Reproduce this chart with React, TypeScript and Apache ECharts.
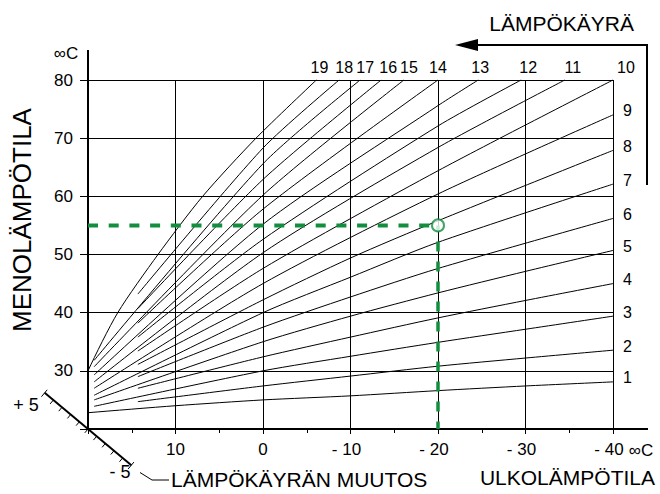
import React, { useEffect, useRef } from 'react';
import * as echarts from 'echarts';

const FONT = '"Liberation Sans", Arial, Helvetica, sans-serif';
const GREEN = '#128f3e';

// Heating curves: [outdoor temperature °C, flow temperature °C]
const curve1 = [[22, 22.5], [20, 22.8], [10, 24.0], [0, 25.0], [-10, 25.7], [-20, 26.6], [-30, 27.4], [-40, 28.1]];
const curve2 = [[14.3, 24.7], [0, 27.4], [-10, 29.1], [-20, 30.8], [-30, 32.2], [-40, 33.55]];
const curve3 = [[19.3, 23.9], [0, 30.0], [-10, 32.5], [-20, 34.9], [-30, 37.15], [-40, 39.4]];
const curve4 = [[14.3, 27.0], [0, 32.4], [-10, 35.8], [-20, 39.1], [-30, 42.1], [-40, 45.0]];
const curve5 = [[19.3, 25.0], [0, 35.0], [-10, 39.4], [-20, 43.4], [-30, 47.1], [-40, 50.7]];
const curve6 = [[14.3, 29.0], [0, 37.5], [-10, 42.7], [-20, 47.6], [-40, 56.2]];
const curve7 = [[19.3, 25.8], [0, 40.0], [-10, 46.1], [-20, 52.1], [-40, 62.1]];
const curve8 = [[14.3, 31.1], [0, 42.2], [-10, 49.4], [-20, 55.8], [-40, 67.9]];
const curve9 = [[19.3, 27.0], [0, 45.0], [-20, 60.4], [-40, 74.0]];
const curve10 = [[14.3, 33.4], [0, 47.6], [-20, 64.4], [-40, 80]];
const curve11 = [[19.3, 28.1], [0, 50.3], [-20, 68.4], [-34.5, 80]];
const curve12 = [[14.3, 35.8], [0, 52.6], [-20, 72.1], [-29.5, 80]];
const curve13 = [[19.3, 29.3], [0, 55.2], [-20, 75.6], [-24.6, 80]];
const curve14 = [[14.3, 38.2], [0, 57.8], [-20, 80]];
const curve15 = [[19.3, 30.7], [0, 60.2], [-16.1, 80]];
const curve16 = [[14.3, 40.7], [0, 62.9], [-13.5, 80]];
const curve17 = [[19.3, 31.8], [0, 65.6], [-11.1, 80]];
const curve18 = [[14.3, 43.2], [0, 68.3], [-8.7, 80]];
const curve19 = [[22, 22.5], [20, 30], [16.6, 40], [12.0, 50], [6.9, 60], [0.8, 70], [-6.1, 80]];

const curves = [curve1, curve2, curve3, curve4, curve5, curve6, curve7, curve8, curve9, curve10,
  curve11, curve12, curve13, curve14, curve15, curve16, curve17, curve18, curve19];
const curveNames = ['1', '2', '3', '4', '5', '6', '7', '8', '9', '10',
  '11', '12', '13', '14', '15', '16', '17', '18', '19'];

// Example reading: outdoor -20 °C -> flow 55 °C
const exampleOutdoor = -20;
const exampleFlow = 55;

const xMin = -40;
const xMax = 20;
const yMin = 20;
const yMax = 80;

const title = 'LÄMPÖKÄYRÄ';
const yTitle = 'MENOLÄMPÖTILA';
const xTitle = 'ULKOLÄMPÖTILA';
const shiftTitle = 'LÄMPÖKÄYRÄN MUUTOS';
const unit = '∞C';

// label offsets (style only)
const topLabelDx: Record<string, number> = { '10': 13, '11': 8, '12': 7, '13': 2, '14': 0, '15': 5, '16': 7, '17': 5, '18': 5, '19': 3 };

export default function App() {
  const ref = useRef<HTMLDivElement>(null);
  useEffect(() => {
    if (!ref.current) return;
    const chart = echarts.init(ref.current, null, { renderer: 'svg' });

    const series: any[] = curves.map((pts, i) => {
      const name = curveNames[i];
      const n = i + 1;
      const end = pts[pts.length - 1];
      const top = n >= 10;
      return {
        type: 'line',
        name,
        data: pts,
        showSymbol: false,
        symbol: 'none',
        smooth: 0.25,
        clip: false,
        silent: true,
        lineStyle: { color: '#000', width: 1 },
        z: 3,
        markPoint: {
          symbol: 'circle',
          symbolSize: 0,
          silent: true,
          label: {
            show: true,
            position: top ? 'top' : 'right',
            distance: top ? 5 : 10,
            offset: top ? [topLabelDx[name] || 0, 0] : [0, -4],
            formatter: name,
            color: '#000',
            fontSize: 16,
            fontFamily: FONT,
          },
          data: [{ coord: end, name }],
        },
      };
    });

    series.push({
      type: 'line',
      data: [[xMax, exampleFlow], [exampleOutdoor, exampleFlow]],
      showSymbol: false,
      symbol: 'none',
      silent: true,
      lineStyle: { color: GREEN, width: 4, type: [10, 10.7] },
      z: 6,
    });
    series.push({
      type: 'line',
      data: [[exampleOutdoor, exampleFlow], [exampleOutdoor, yMin]],
      showSymbol: false,
      symbol: 'none',
      silent: true,
      lineStyle: { color: GREEN, width: 3.5, type: [10, 10], dashOffset: 4 },
      z: 6,
    });
    series.push({
      type: 'scatter',
      data: [[exampleOutdoor, exampleFlow]],
      symbol: 'circle',
      symbolSize: 12,
      silent: true,
      itemStyle: { color: '#fff', borderColor: GREEN, borderWidth: 2 },
      z: 10,
    });

    const fmtX = (v: number) => (v === xMax ? '' : v < 0 ? `{n|- ${-v}}` : String(v));
    const fmtY = (v: number) => (v === yMin ? '' : String(v));

    chart.setOption({
      animation: false,
      backgroundColor: '#fff',
      grid: { left: 88, right: 47, top: 80, bottom: 65, containLabel: false },
      xAxis: {
        type: 'value',
        min: xMin,
        max: xMax,
        interval: 10,
        inverse: true,
        axisLine: { show: true, onZero: false, lineStyle: { color: '#000', width: 2 } },
        axisTick: { show: true, length: 5, lineStyle: { color: '#000', width: 1 } },
        minorTick: { show: true, splitNumber: 2, length: 4, lineStyle: { color: '#000', width: 1 } },
        splitLine: { show: true, lineStyle: { color: '#000', width: 1 } },
        axisLabel: {
          formatter: fmtX, color: '#000', fontSize: 17, fontFamily: FONT, margin: 12,
          rich: { n: { fontSize: 17, fontFamily: FONT, color: '#000', padding: [0, 8, 0, 0] } },
        },
      },
      yAxis: {
        type: 'value',
        min: yMin,
        max: yMax,
        interval: 10,
        axisLine: { show: true, onZero: false, lineStyle: { color: '#000', width: 2 } },
        axisTick: { show: true, length: 8, lineStyle: { color: '#000', width: 1 } },
        splitLine: { show: true, lineStyle: { color: '#000', width: 1 } },
        axisLabel: { formatter: fmtY, color: '#000', fontSize: 17, fontFamily: FONT, margin: 15 },
      },
      series,
    });

    const p = (x: number, y: number) => chart.convertToPixel({ xAxisIndex: 0, yAxisIndex: 0 }, [x, y]) as number[];
    const o = p(xMax, yMin);
    const xEnd = p(xMin, yMin);
    const yEnd = p(xMax, yMax);

    // parallel shift scale (-5..+5), diagonal through the origin
    const ux = 8.67, uy = 7.23;
    const len = Math.hypot(ux, uy);
    const nx = -uy / len, ny = ux / len; // perpendicular, toward lower-left
    const scaleEls: any[] = [];
    const a = [o[0] - 5 * ux, o[1] - 5 * uy];
    const b = [o[0] + 5 * ux, o[1] + 5 * uy];
    scaleEls.push({ type: 'line', shape: { x1: a[0], y1: a[1], x2: b[0], y2: b[1] }, style: { stroke: '#000', lineWidth: 2 } });
    for (let u = -5; u <= 5; u++) {
      const cx = o[0] - u * ux, cy = o[1] - u * uy;
      const end = Math.abs(u) === 5;
      const t0 = end ? -4 : 0;
      const t1 = 5;
      scaleEls.push({ type: 'line', shape: { x1: cx + nx * t0, y1: cy + ny * t0, x2: cx + nx * t1, y2: cy + ny * t1 }, style: { stroke: '#000', lineWidth: 1 } });
    }

    const txt = (text: string, x: number, y: number, size: number, align = 'center', vAlign = 'middle', extra: any = {}) => ({
      type: 'text', x, y, silent: true, ...extra,
      style: { text, fill: '#000', font: `${size}px ${FONT}`, textAlign: align, textVerticalAlign: vAlign },
    });

    chart.setOption({
      graphic: [
        { type: 'line', shape: { x1: xEnd[0], y1: xEnd[1], x2: 648, y2: xEnd[1] }, style: { stroke: '#000', lineWidth: 2 } },
        { type: 'line', shape: { x1: yEnd[0], y1: yEnd[1], x2: yEnd[0], y2: 50 }, style: { stroke: '#000', lineWidth: 2 } },
        txt(unit, 66, 53, 17),
        txt(unit, 641, 450, 17),
        txt(title, 634, 23, 21, 'right'),
        { type: 'polyline', shape: { points: [[476, 45], [647, 45], [647, 185]] }, style: { stroke: '#000', lineWidth: 2, fill: null } },
        { type: 'polygon', shape: { points: [[455, 45], [478, 39], [478, 51]] }, style: { fill: '#000' } },
        txt(yTitle, 22, 220, 26, 'center', 'middle', { rotation: Math.PI / 2 }),
        ...scaleEls,
        txt('+ 5', 26, 405, 18),
        txt('- 5', 120, 472, 18),
        { type: 'polyline', shape: { points: [[140, 472.5], [152, 480], [169, 480]] }, style: { stroke: '#000', lineWidth: 1, fill: null } },
        txt(shiftTitle, 171, 479, 21, 'left'),
        txt(xTitle, 655, 477, 21, 'right'),
      ],
    });

    return () => chart.dispose();
  }, []);
  return <div ref={ref} style={{ position: 'fixed', left: 0, top: 0, width: 660, height: 494, background: '#fff' }} />;
}
